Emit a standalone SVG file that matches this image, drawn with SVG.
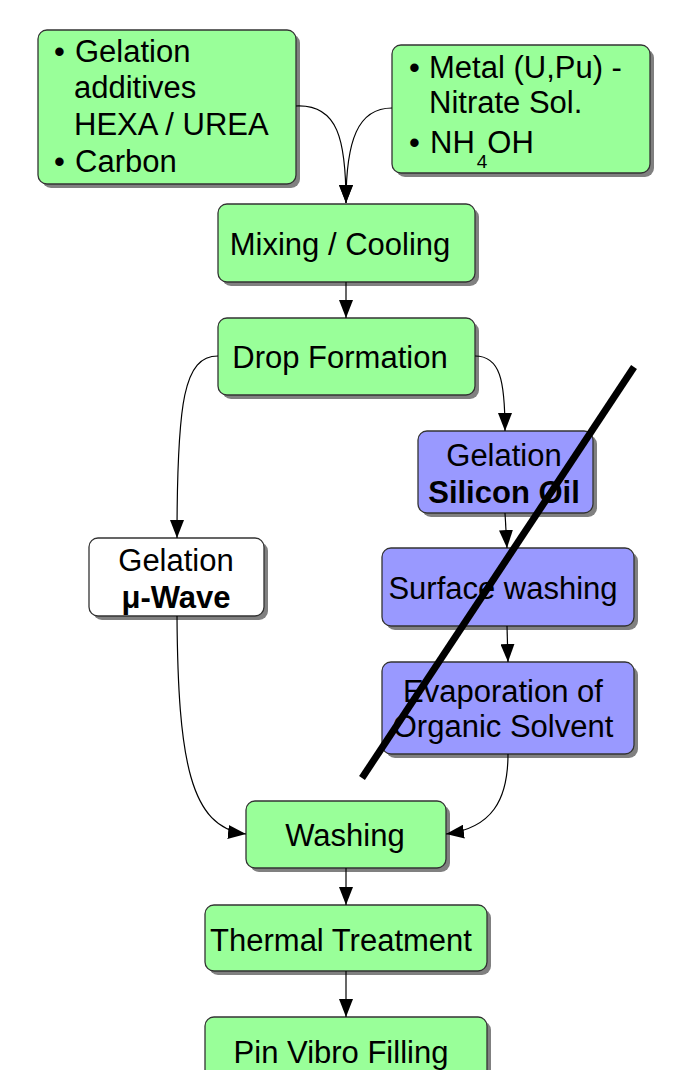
<svg xmlns="http://www.w3.org/2000/svg" width="681" height="1070" viewBox="0 0 681 1070">
<defs>
<marker id="arr" markerUnits="userSpaceOnUse" markerWidth="18" markerHeight="14" refX="18" refY="7" orient="auto">
<path d="M0,0 L18,7 L0,14 z" fill="#000"/>
</marker>
</defs>
<style>
.sh{fill:#808080;}
.g{fill:#99ff99;stroke:#333;stroke-width:1.3;}
.b{fill:#9999ff;stroke:#333;stroke-width:1.3;}
.w{fill:#ffffff;stroke:#333;stroke-width:1.3;}
text{font-family:"Liberation Sans",Arial,sans-serif;font-size:31px;fill:#000;}
.c{text-anchor:middle;}
.bold{font-weight:bold;}
.e{fill:none;stroke:#000;stroke-width:1.2;marker-end:url(#arr);}
</style>
<rect width="681" height="1070" fill="#fff"/>
<g id="n-additives">
<rect class="sh" x="42" y="34" width="258" height="154" rx="9"/>
<rect class="g" x="38" y="30" width="258" height="154" rx="9"/>
<text><tspan x="54" y="62">•</tspan><tspan x="75" y="62">Gelation</tspan></text>
<text x="74" y="98">additives</text>
<text x="74" y="135">HEXA / UREA</text>
<text><tspan x="54" y="172">•</tspan><tspan x="75" y="172">Carbon</tspan></text>
</g>
<g id="n-metal">
<rect class="sh" x="396" y="49" width="258" height="128" rx="9"/>
<rect class="g" x="392" y="45" width="258" height="128" rx="9"/>
<text><tspan x="409" y="78">•</tspan><tspan x="429" y="78">Metal (U,Pu) -</tspan></text>
<text x="429" y="113">Nitrate Sol.</text>
<text><tspan x="409" y="153">•</tspan><tspan x="430" y="153">NH</tspan><tspan dx="2" dy="15" font-size="19">4</tspan><tspan dy="-15">OH</tspan></text>
</g>
<g id="n-mixing">
<rect class="sh" x="222" y="208" width="257" height="78" rx="9"/>
<rect class="g" x="218" y="204" width="257" height="78" rx="9"/>
<text x="340" y="255" class="c">Mixing / Cooling</text>
</g>
<g id="n-drop">
<rect class="sh" x="222" y="322" width="257" height="77" rx="9"/>
<rect class="g" x="218" y="318" width="257" height="77" rx="9"/>
<text x="340" y="368" class="c">Drop Formation</text>
</g>
<g id="n-silicon">
<rect class="sh" x="422" y="435" width="175" height="82" rx="9"/>
<rect class="b" x="418" y="431" width="175" height="82" rx="9"/>
<text x="504" y="466" class="c">Gelation</text>
<text x="504" y="503" class="c bold">Silicon Oil</text>
</g>
<g id="n-surface">
<rect class="sh" x="386" y="552" width="252" height="78" rx="9"/>
<rect class="b" x="382" y="548" width="252" height="78" rx="9"/>
<text x="503" y="599" class="c">Surface washing</text>
</g>
<g id="n-evap">
<rect class="sh" x="386" y="666" width="252" height="92" rx="9"/>
<rect class="b" x="382" y="662" width="252" height="92" rx="9"/>
<text x="503" y="702" class="c">Evaporation of</text>
<text x="503" y="737" class="c">Organic Solvent</text>
</g>
<g id="n-mwave">
<rect class="sh" x="93" y="542" width="175" height="78" rx="9"/>
<rect class="w" x="89" y="538" width="175" height="78" rx="9"/>
<text x="176" y="571" class="c">Gelation</text>
<text x="176" y="608" class="c bold">μ-Wave</text>
</g>
<g id="n-washing">
<rect class="sh" x="250" y="805" width="200" height="67" rx="9"/>
<rect class="g" x="246" y="801" width="200" height="67" rx="9"/>
<text x="345" y="846" class="c">Washing</text>
</g>
<g id="n-thermal">
<rect class="sh" x="209" y="909" width="282" height="66" rx="9"/>
<rect class="g" x="205" y="905" width="282" height="66" rx="9"/>
<text x="341" y="951" class="c">Thermal Treatment</text>
</g>
<g id="n-pin">
<rect class="sh" x="209" y="1021" width="282" height="66" rx="9"/>
<rect class="g" x="205" y="1017" width="282" height="66" rx="9"/>
<text x="341" y="1063" class="c">Pin Vibro Filling</text>
</g>
<g id="connectors">
<path class="e" d="M296,106 C338,104 346,140 346,203"/>
<path class="e" d="M392,108 C358,108 346,140 346,203"/>
<path class="e" d="M346,282 L346,318"/>
<path class="e" d="M218,356 C184,356 177,400 177,538"/>
<path class="e" d="M475,356 C500,356 505,380 505,431"/>
<path class="e" d="M505,513 L507,548"/>
<path class="e" d="M507,626 L508,662"/>
<path class="e" d="M177,616 C178,760 190,828 246,834"/>
<path class="e" d="M508,754 C508,800 492,828 446,834"/>
<path class="e" d="M346,868 L346,905"/>
<path class="e" d="M346,971 L346,1017"/>
</g>
<line x1="634" y1="367" x2="362" y2="778" stroke="#000" stroke-width="7"/>
</svg>
